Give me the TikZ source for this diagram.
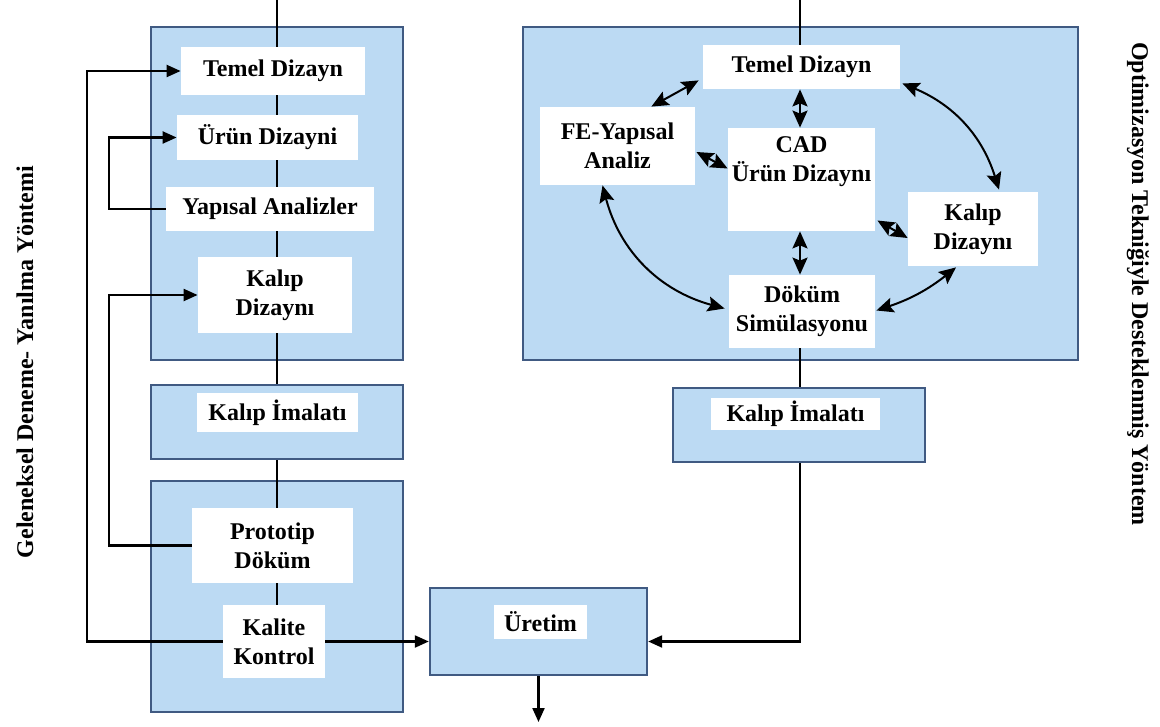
\documentclass[tikz,border=0pt]{standalone}
\usepackage{fontspec}
\setmainfont{Liberation Serif}
\usepackage{tikz}
\usetikzlibrary{arrows.meta, calc}
\definecolor{panelblue}{RGB}{188,218,243}
\definecolor{panelline}{RGB}{64,90,130}
\tikzstyle{panel} = [draw=panelline, line width=1.2pt, fill=panelblue, inner sep=0pt]
\tikzstyle{whitebox} = [fill=white, inner sep=0pt, align=center]
\tikzstyle{arrow} = [line width=1.1pt, -{Triangle[length=7pt, width=6pt]}]
\tikzstyle{biarrow} = [line width=1pt, {Stealth[length=8.5pt, width=7.5pt, inset=1.5pt]}-{Stealth[length=8.5pt, width=7.5pt, inset=1.5pt]}]
\tikzstyle{spine} = [line width=0.9pt]

\begin{document}
\begin{tikzpicture}[x=0.5pt, y=-0.5pt, font=\fontsize{12}{14.5}\selectfont\bfseries]
        \path[use as bounding box, fill=white] (0,0) rectangle (1160,727);

        % Left column: the traditional way
        \coordinate (topL) at (277,0);
        \node (panelA) [panel, minimum width=126pt, minimum height=166.5pt] at (277,193.5) {};
        \node (imalatL) [panel, minimum width=126pt, minimum height=37pt] at (277,422) {};
        \node (panelC) [panel, minimum width=126pt, minimum height=115.5pt] at (277,596.5) {};

        \node (temelL) [whitebox, minimum width=92pt, minimum height=24pt] at (273,71) {Temel Dizayn};
        \node (urunL) [whitebox, minimum width=90.5pt, minimum height=22.5pt] at (267.5,137.5) {Ürün Dizayni};
        \node (yapisal) [whitebox, minimum width=104pt, minimum height=22pt] at (270,209) {Yapısal Analizler};
        \node (kalipL) [whitebox, minimum width=77pt, minimum height=38pt] at (275,295) {Kalıp\\Dizaynı};
        \node (imalatLtxt) [whitebox, minimum width=80.5pt, minimum height=19.5pt] at (277.5,412.5) {Kalıp İmalatı};
        \node (prototip) [whitebox, minimum width=80.5pt, minimum height=37.5pt] at (272.5,545.5) {Prototip\\Döküm};
        \node (kalite) [whitebox, minimum width=51pt, minimum height=36.5pt] at (274,641.5) {Kalite\\Kontrol};

        % Right column: supported by optimization
        \coordinate (topR) at (800,0);
        \node (panelR) [panel, minimum width=277.5pt, minimum height=166.5pt] at (800.5,193.5) {};
        \node (imalatR) [panel, minimum width=126pt, minimum height=37pt] at (799,425) {};

        \node (temelR) [whitebox, minimum width=98.5pt, minimum height=22pt] at (801.5,67) {Temel Dizayn};
        \node (fe) [whitebox, minimum width=77.5pt, minimum height=39pt] at (617.5,146) {FE-Yapısal\\Analiz};
        \node (cad) [whitebox, minimum width=73.5pt, minimum height=51.5pt] at (801.5,179.5) {};
        \node (cadtxt) [anchor=north, align=center, inner sep=0pt] at ([yshift=-4.5pt]cad.north) {CAD\\Ürün Dizaynı};
        \node (kalipR) [whitebox, minimum width=65pt, minimum height=37pt] at (973,229) {Kalıp\\Dizaynı};
        \node (dokum) [whitebox, minimum width=73pt, minimum height=36.5pt] at (802,311.5) {Döküm\\Simülasyonu};
        \node (imalatRtxt) [whitebox, minimum width=84.5pt, minimum height=16pt] at (795.5,414) {Kalıp İmalatı};

        % Production
        \node (uretim) [panel, minimum width=108.5pt, minimum height=43.5pt] at (538.5,631.5) {};
        \node (uretimtxt) [whitebox, minimum width=46.5pt, minimum height=17pt] at (540.5,622) {Üretim};
        \coordinate (out) at (539,722);

        % Side titles
        \node (sideL) [rotate=90] at (25,362) {Geleneksel Deneme- Yanılma Yöntemi};
        \node (sideR) [rotate=-90] at (1138,284) {Optimizasyon Tekniğiyle Desteklenmiş Yöntem};

        % Main flow lines
        \draw[spine] (topL) -- (temelL.north -| topL);
        \draw[spine] (temelL.south -| topL) -- (urunL.north -| topL);
        \draw[spine] (urunL.south -| topL) -- (yapisal.north -| topL);
        \draw[spine] (yapisal.south -| topL) -- (kalipL.north -| topL);
        \draw[spine] (kalipL.south -| topL) -- (imalatL.north -| topL);
        \draw[spine] (imalatL.south -| topL) -- (prototip.north -| topL);
        \draw[spine] (prototip.south -| topL) -- (kalite.north -| topL);

        \draw[spine] (topR) -- (temelR.north -| topR);
        \draw[spine] (dokum.south -| topR) -- (imalatR.north -| topR);

        % Feedback loops
        \draw[arrow] (yapisal.west) -- ++(-57,0) |- (urunL.west);
        \draw[arrow] (prototip.west) -- ++(-83,0) |- (kalipL.west);
        \draw[arrow] (kalite.west) -- ++(-136,0) |- (temelL.west);

        % Into production
        \draw[arrow] (kalite.east) -- (kalite.east -| uretim.west);
        \draw[arrow] (imalatR.south -| topR) |- (kalite.east -| uretim.east);
        \draw[arrow] (uretim.south) -- (uretim.south |- out);

        % Links inside the optimization loop
        \draw[biarrow] ($(temelR.south west)+(-4,-9)$) -- ($(fe.north east)+(-44,0)$);
        \draw[biarrow] (temelR.south -| topR) -- (cad.north -| topR);
        \draw[biarrow] ($(fe.east)+(1,6)$) -- ($(cad.west)+(0,-11)$);
        \draw[biarrow] ($(cad.east)+(2,41)$) -- ($(kalipR.west)+(0,9)$);
        \draw[biarrow] (cad.south -| topR) -- (dokum.north -| topR);
        \draw[biarrow] ($(temelR.south east)+(2,-6)$) to[bend left=25] ($(kalipR.north)+(26,-2)$);
        \draw[biarrow] ($(fe.south)+(-15,0)$) to[bend right=30] ($(dokum.west)+(-4,-3)$);
        \draw[biarrow] ($(dokum.east)+(1,-1)$) to[bend right=10] ($(kalipR.south)+(-17,1)$);
    \end{tikzpicture}
\end{document}
